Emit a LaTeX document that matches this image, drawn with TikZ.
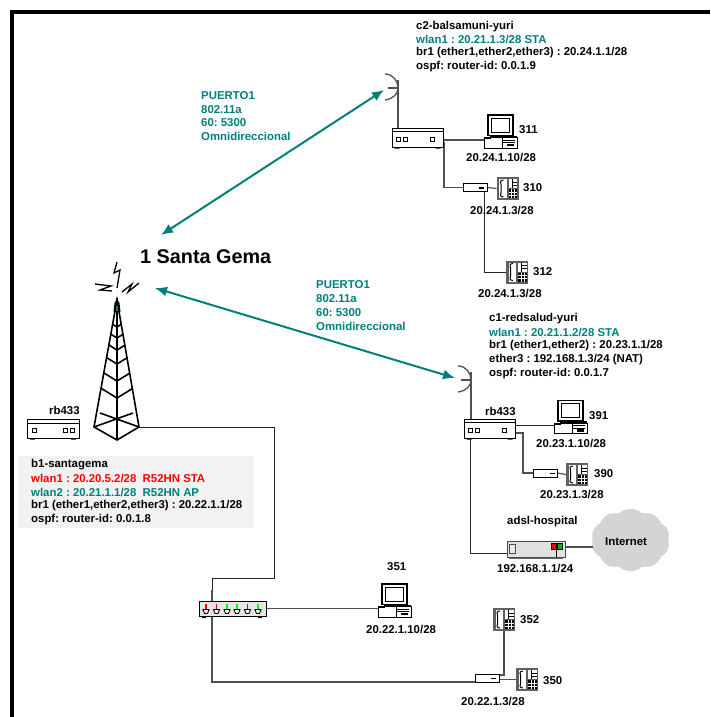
\documentclass[tikz,border=0pt]{standalone}
\usepackage{fontspec}
\setmainfont{Liberation Sans}
\usetikzlibrary{arrows.meta,shapes.symbols}
\definecolor{tealc}{HTML}{007F7B}
\definecolor{wirec}{HTML}{505050}
\tikzset{
 x=1pt,y=-1pt,
 txt/.style={font=\bfseries\fontsize{11.4}{12}\selectfont\frenchspacing,anchor=west,inner sep=0pt,text=black},
 tealt/.style={txt,text=tealc},
 redt/.style={txt,text=red},
 wire/.style={draw=wirec,line width=1.2pt},
 thinwire/.style={draw=black!85,line width=.8pt},
 link/.style={draw=tealc,line width=2pt,{Latex[length=12pt,width=10pt]}-{Latex[length=12pt,width=10pt]}},
 dev/.style 2 args={rectangle,minimum width=#1,minimum height=#2,inner sep=0pt,outer sep=0pt},
 pics/routerdev/.style={code={
   \fill[black] (-23,9) rectangle (-18,11) (18,9) rectangle (23,11);
   \draw[black,line width=.85pt,fill=white] (-25.5,-9.5) rectangle (25.5,9.5);
   \draw[black,line width=.7pt] (-25.5,-6.5) -- (25.5,-6.5);
   \draw[black,line width=.8pt] (-21.5,0) rectangle (-17.5,3.5) (-14,0) rectangle (-10,3.5) (13,0) rectangle (17,3.5);
 }},
 pics/rtwin/.style={code={
   \fill[black] (-23,9) rectangle (-18,11) (18,9) rectangle (23,11);
   \draw[black,line width=.85pt,fill=white] (-26,-9.5) rectangle (26,9.5);
   \draw[black,line width=.7pt] (-26,-5.5) -- (26,-5.5);
   \draw[black,line width=.8pt] (-21,0) rectangle (-17,3.5) (10,0) rectangle (14,3.5) (17,0) rectangle (21,3.5);
 }},
 pics/pcdev/.style={code={
   \begin{scope}[yshift=-5.5pt]
   \draw[black,line width=1.1pt,fill=white] (-12.5,-22) rectangle (12.5,-1.5);
   \draw[black,line width=.9pt,fill=white] (-9,-19) rectangle (9,-5);
   \fill[black] (-11,-1.5) rectangle (16,1);
   \draw[black,line width=.85pt,fill=white] (-16.5,.5) rectangle (16.5,11);
   \fill[black] (-16.5,0) rectangle (-10,2);
   \draw[black,line width=.7pt] (2,3.2) -- (14.5,3.2) (2,5.5) -- (14.5,5.5);
   \fill[black] (6,6.5) rectangle (13,9);
   \draw[black,line width=.7pt] (1.5,.5) -- (1.5,11);
   \end{scope}
 }},
 pics/phonedev/.style={code={
   \fill[black!62] (-11,-11.5) rectangle (11,11.5);
   \fill[white] (-8.5,-9.5) rectangle (-1,9.5);
   \draw[black,line width=1pt,fill=white] (-4,-8.5) .. controls (-7.5,-8.5) and (-7.5,-6) .. (-6.5,-4) -- (-6.5,4) .. controls (-7.5,6) and (-7.5,8.5) .. (-4,8.5);
   \fill[white] (1,-9.5) rectangle (9.5,-.5);
   \fill[black] (1,.5) rectangle (9.5,9.5);
   \draw[black,line width=.7pt] (4.5,-6.5) -- (9.5,-6.5) (4.5,-3.5) -- (9.5,-3.5) (4.5,-9.5) -- (4.5,-.5);
   \draw[white,line width=.5pt] (1,3.5) -- (9.5,3.5) (1,6.5) -- (9.5,6.5) (4,.5) -- (4,9.5) (7,.5) -- (7,9.5);
 }},
 pics/modemdev/.style={code={
   \draw[black,line width=.85pt,fill=white] (-12,-4) rectangle (12,4.2);
   \fill[black] (4,-.5) rectangle (9,1.2);
 }},
 pics/dishdev/.style={code={
   \draw[wirec,line width=1.3pt] (0,-14) .. controls (8,-14) and (13,-7) .. (13,0) .. controls (13,6) and (8,11) .. (0,12);
   \draw[wirec,line width=1.3pt] (3,0) -- (12.5,0);
 }},
}
\begin{document}
\begin{tikzpicture}
\useasboundingbox (0,0) rectangle (710,717);
% frame
\draw[black,line width=3.8pt] (12,717) -- (12,12) -- (710,12);
% panel
\fill[black!5] (18,456) rectangle (254,528);

% dev anchors
\node[dev={51pt}{19pt}] (r2) at (417.5,137.5) {};
\node[dev={51pt}{19pt}] (r1) at (489.5,428.5) {};
\node[dev={52pt}{19pt}] (rb) at (53,428.5) {};
\node[dev={33pt}{33pt}] (pc311) at (500.5,131.5) {};
\node[dev={33pt}{33pt}] (pc391) at (570.5,417) {};
\node[dev={33pt}{33pt}] (pc351) at (394.5,600.5) {};
\node[dev={24pt}{8pt}] (m310) at (475,187.5) {};
\node[dev={24pt}{8pt}] (m390) at (545.5,473) {};
\node[dev={24pt}{8pt}] (m350) at (487,678) {};
\node[dev={22pt}{23pt}] (ph310) at (507.5,188.5) {};
\node[dev={22pt}{23pt}] (ph312) at (517,272) {};
\node[dev={22pt}{23pt}] (ph390) at (577,474.5) {};
\node[dev={22pt}{23pt}] (ph352) at (504,619.5) {};
\node[dev={22pt}{23pt}] (ph350) at (527,679.5) {};
\node[dev={67pt}{15pt}] (hub) at (232.5,608.5) {};
\node[dev={58pt}{16pt}] (adsl) at (536,549) {};
\node[dev={45pt}{142pt}] (tower) at (116.5,369) {};
\node[dev={1pt}{1pt}] (d2) at (385,88) {};
\node[dev={1pt}{1pt}] (d1) at (458,380) {};
\node[cloud,cloud puffs=10,cloud puff arc=85,aspect=1.3,minimum width=78pt,minimum height=62pt,
      draw=black!17,fill=black!17,inner sep=0pt,outer sep=0pt] (cl) at (630.5,540) {};

% connectors
\coordinate (a) at (274,427);
\coordinate (b) at (274,578);
\coordinate (c) at (212,578);
\coordinate (e) at (212,682);
\draw[thinwire] (139,427) -- (a) -- (b) -- (c) -- (212,590);
\draw[wire] (212,590) -- (e) -- (m350.west |- e);
\draw[wire] (hub.east) -- (pc351.west |- hub.east);
\draw[wire] (m350.east |- ph350.west) -- (ph350.west);
\draw[wire] (ph352.south) |- (m350.east |- 0,675);
\draw[wire] (r2.east |- 0,140) -- (pc311.west |- 0,140);
\draw[wire] (r2.east |- 0,143) -- (444,143) |- (m310.west);
\draw[wire] (m310.east) -- (ph310.west);
\draw[thinwire] (484,192) -- (484,272) -- (ph312.west);
\draw[wire] (398,80) -- (398,128);
\draw[wire] (471,372) -- (471,419);
\draw[thinwire] (r1.east |- 0,425) -- (pc391.west |- 0,425);
\draw[wire] (r1.east |- 0,433) -- (523,433) |- (m390.west);
\draw[wire] (m390.east) -- (ph390.west);
\draw[thinwire] (470,438) |- (adsl.west |- 0,553);
\draw[wire] (adsl.east |- 0,547) -- (cl.west |- 0,547);

\draw[link] (161,235) -- (384,90);
\draw[link] (155,288) -- (455,378);

% device drawings
\pic at (r2) {routerdev};
\pic at (r1) {routerdev};
\pic at (rb) {rtwin};
\pic at (pc311) {pcdev};
\pic at (pc391) {pcdev};
\pic at (pc351) {pcdev};
\pic at (m310) {modemdev};
\pic at (m390) {modemdev};
\pic at (m350) {modemdev};
\pic at (ph310) {phonedev};
\pic at (ph312) {phonedev};
\pic at (ph390) {phonedev};
\pic at (ph352) {phonedev};
\pic at (ph350) {phonedev};
\pic at (d2) {dishdev};
\pic at (d1) {dishdev};

% tower
\begin{scope}[black,line width=1.6pt]
\draw (117,300) -- (94,427) -- (117,440) -- (139,427) -- cycle;
\draw (117,298) -- (117,440);
\foreach \yy in {327,338,350,364,381,398}{
  \pgfmathsetmacro{\oo}{300+(\yy-300)/1.1086}
  \pgfmathsetmacro{\dd}{(\oo-300)*.177}
  \draw (117-\dd,\oo) -- (117,\yy) -- (117+\dd,\oo);
}
\draw (94,427) -- (133,413) (139,427) -- (100,413);
\fill (113.500,312) -- (114.500,303) -- (117,299) -- (119.500,303) -- (120.500,312) -- cycle;
\fill[tealc] (116.2,306) rectangle (117.800,311);
\draw[line width=1.3pt] (117,262) -- (114,273) -- (120,270) -- (117,288);
\draw[line width=1.3pt] (95,284) -- (111,286) -- (100,290) -- (112,291);
\draw[line width=1.3pt] (122,292) -- (132,284) -- (128,292) -- (139,283);
\end{scope}

% hub
\fill[black] (202,615) rectangle (206,618) (258,615) rectangle (262,618);
\draw[black,line width=.9pt,fill=black!10] (hub.north west) rectangle (hub.south east);
\foreach \xx/\cc in {206/red,216.5/red,227/green,237/green,247.5/red,258/green}{
  \fill[\cc] (\xx-.8,603.5) rectangle (\xx+.8,609);
  \draw[black,line width=.9pt,fill=white] (\xx-3,609.5) -- (\xx+3,609.5) -- (\xx+1.5,613.5) -- (\xx-1.5,613.5) -- cycle;
}
% adsl
\fill[black!60] (509,557) rectangle (563,559);
\draw[black!70,line width=.9pt,fill=black!12] (adsl.north west) rectangle (adsl.south east);
\draw[black!70,line width=.9pt,fill=black!8] (509,544) rectangle (515,553);
\draw[black,line width=.3pt,fill=red] (551,543.5) rectangle (556,549);
\draw[black,line width=.3pt,fill=green!70!black] (557,543.5) rectangle (562,549);
\draw[black,line width=.6pt] (556.5,549) -- (556.5,557);

% texts
\node[txt,font=\bfseries\fontsize{19.8}{22}\selectfont] (title) at (140,257) {1 Santa Gema};

\node[txt] (c2a) at (416,27) {c2-balsamuni-yuri};
\node[tealt] (c2b) at (416,39) {wlan1 : 20.21.1.3/28 STA};
\node[txt] (c2c) at (416,53) {br1 (ether1,ether2,ether3) : 20.24.1.1/28};
\node[txt] (c2d) at (416,67) {ospf: router-id: 0.0.1.9};

\node[tealt] (p1a) at (201,96) {PUERTO1};
\node[tealt] (p1b) at (201,109.500) {802.11a};
\node[tealt] (p1c) at (201,123) {60: 5300};
\node[tealt] (p1d) at (201,136.500) {Omnidireccional};

\node[tealt] (p2a) at (316,285) {PUERTO1};
\node[tealt] (p2b) at (316,299) {802.11a};
\node[tealt] (p2c) at (316,312.500) {60: 5300};
\node[tealt] (p2d) at (316,326) {Omnidireccional};

\node[txt] (c1a) at (489,319) {c1-redsalud-yuri};
\node[tealt] (c1b) at (489,332.500) {wlan1 : 20.21.1.2/28 STA};
\node[txt] (c1c) at (489,346) {br1 (ether1,ether2) : 20.23.1.1/28};
\node[txt] (c1d) at (489,360) {ether3 : 192.168.1.3/24 (NAT)};
\node[txt] (c1e) at (489,374) {ospf: router-id: 0.0.1.7};

\node[txt] (l311) at (519,130) {311};
\node[txt] (i311) at (466,157) {20.24.1.10/28};
\node[txt] (l310) at (523,188) {310};
\node[txt] (i310) at (470,210) {20.24.1.3/28};
\node[txt] (l312) at (533,272) {312};
\node[txt] (i312) at (478,293) {20.24.1.3/28};
\node[txt] (rb1) at (485,411) {rb433};
\node[txt] (l391) at (589,416) {391};
\node[txt] (i391) at (536,443) {20.23.1.10/28};
\node[txt] (l390) at (594,474) {390};
\node[txt] (i390) at (540,494) {20.23.1.3/28};
\node[txt] (adt) at (507,522) {adsl-hospital};
\node[txt] (adi) at (497,568) {192.168.1.1/24};
\node[txt] (int) at (605,542) {Internet};
\node[txt] (rb2) at (49,410) {rb433};
\node[txt] (b1a) at (31,465) {b1-santagema};
\node[redt] (b1b) at (31,478) {wlan1 : 20.20.5.2/28\ \ R52HN STA};
\node[tealt] (b1c) at (31,492) {wlan2 : 20.21.1.1/28\ \ R52HN AP};
\node[txt] (b1d) at (31,506) {br1 (ether1,ether2,ether3) : 20.22.1.1/28};
\node[txt] (b1e) at (31,520) {ospf: router-id: 0.0.1.8};
\node[txt] (l351) at (387,567) {351};
\node[txt] (i351) at (366,629) {20.22.1.10/28};
\node[txt] (l352) at (520,620) {352};
\node[txt] (l350) at (543,681) {350};
\node[txt] (i350) at (461,701) {20.22.1.3/28};
\end{tikzpicture}
\end{document}
